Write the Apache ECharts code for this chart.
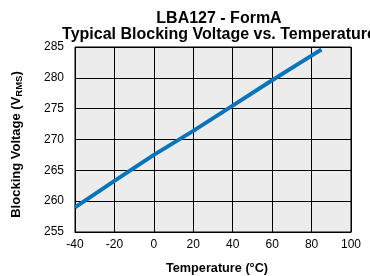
<!DOCTYPE html>
<html>
<head>
    <meta charset="utf-8">
    <script src="https://cdn.jsdelivr.net/npm/echarts@6/dist/echarts.min.js"></script>
    <style>
        html, body { margin: 0; padding: 0; background: #fff; }
    </style>
</head>
<body>
<div id="main" style="width: 370px;height:276px;"></div>
<script type="text/javascript">
    // data
    var temps = [-40, -20, 0, 20, 40, 60, 80, 85];
    var volts = [259.0, 263.3, 267.5, 271.4, 275.5, 279.6, 283.6, 284.6];

    var xTicks = { min: -40, max: 100, step: 20 };
    var yTicks = { min: 255, max: 285, step: 5 };

    var points = [];
    for (let i = 0; i < temps.length; i++) {
        points.push([temps[i], volts[i]]);
    }

    var myChart = echarts.init(document.getElementById('main'));
    var font = 'Liberation Sans, Arial, sans-serif';

    myChart.setOption({
        animation: false,
        title: {
            text: 'LBA127 - FormA\nTypical Blocking Voltage vs. Temperature',
            left: 214,
            top: 6,
            textAlign: 'center',
            textStyle: {
                fontFamily: font,
                fontSize: 16,
                fontWeight: 'bold',
                color: '#000',
                lineHeight: 16
            }
        },
        grid: {
            left: 75,
            right: 19,
            top: 47,
            bottom: 44,
            outerBoundsMode: 'none',
            containLabel: false,
            show: true,
            backgroundColor: '#ececec',
            borderColor: '#000',
            borderWidth: 1
        },
        xAxis: {
            type: 'value',
            min: xTicks.min,
            max: xTicks.max,
            interval: xTicks.step,
            name: 'Temperature (°C)',
            nameLocation: 'middle',
            nameGap: 30,
            nameTextStyle: { fontFamily: font, fontSize: 12.7, fontWeight: 'bold', color: '#000', padding: [0, 0, 0, 8] },
            axisLine: { lineStyle: { color: '#000', width: 1 } },
            axisTick: { show: false },
            axisLabel: { fontFamily: font, fontSize: 12, color: '#000', margin: 7 },
            splitLine: { lineStyle: { color: '#000', width: 1 } }
        },
        yAxis: {
            type: 'value',
            min: yTicks.min,
            max: yTicks.max,
            interval: yTicks.step,
            name: 'Blocking Voltage (V{sub|RMS})',
            nameLocation: 'middle',
            nameGap: 51,
            nameTextStyle: {
                fontFamily: font, fontSize: 13, fontWeight: 'bold', color: '#000',
                padding: [0, 10, 0, 0],
                rich: {
                    sub: { fontFamily: font, fontSize: 9.5, fontWeight: 'bold', color: '#000', verticalAlign: 'bottom', padding: [5, 0, 0, 0] }
                }
            },
            axisLine: { show: true, lineStyle: { color: '#000', width: 1 } },
            axisTick: { show: false },
            axisLabel: { fontFamily: font, fontSize: 12, color: '#000', margin: 11 },
            splitLine: { lineStyle: { color: '#000', width: 1 } }
        },
        series: [{
            type: 'line',
            data: points,
            showSymbol: false,
            symbol: 'none',
            lineStyle: { color: '#0a74b8', width: 4 }
        }]
    });
</script>
</body>
</html>
